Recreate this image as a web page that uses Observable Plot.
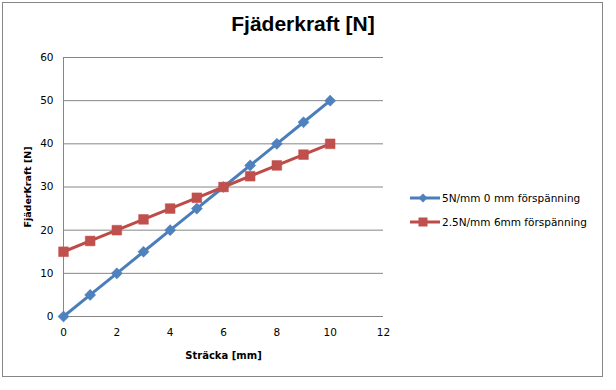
<!DOCTYPE html>
<html>
<head>
<meta charset="utf-8">
<script src="https://cdn.jsdelivr.net/npm/d3@7"></script>
<script src="https://cdn.jsdelivr.net/npm/@observablehq/plot@0.6"></script>
<style>
  html, body { margin: 0; padding: 0; background: #fff; }
  #wrap { position: relative; width: 616px; height: 390px; overflow: hidden; }
  #frame { position: absolute; left: 2px; top: 2px; width: 601px; height: 375px; border: 1px solid #868686; box-sizing: border-box; pointer-events: none; }
  #title { position: absolute; left: 0; width: 606px; top: 12px; text-align: center; font-family: "Liberation Sans", Arial, sans-serif; font-weight: bold; font-size: 21px; color: #000; }
  #legend { position: absolute; left: 410px; top: 189px; font-family: "DejaVu Sans", Verdana, sans-serif; font-size: 10.5px; color: #000; }
  #legend .row { display: flex; align-items: center; height: 18px; margin-bottom: 6px; }
  #legend svg { margin-right: 2px; }
  #chart { position: absolute; left: 0; top: 0; }
</style>
</head>
<body>
<div id="wrap">
  <div id="chart"></div>
  <div id="title">Fjäderkraft [N]</div>
  <div id="legend"></div>
  <div id="frame"></div>
</div>
<script>
const stracka = [0, 1, 2, 3, 4, 5, 6, 7, 8, 9, 10];
const series1Name = "5N/mm 0 mm förspänning";
const series2Name = "2.5N/mm 6mm förspänning";
const series1 = [0, 5, 10, 15, 20, 25, 30, 35, 40, 45, 50];
const series2 = [15, 17.5, 20, 22.5, 25, 27.5, 30, 32.5, 35, 37.5, 40];
const xTicks = [0, 2, 4, 6, 8, 10, 12];
const yTicks = [0, 10, 20, 30, 40, 50, 60];

const blue = "#4A7EBB", blueM = "#4F81BD";
const red = "#BE4B48", redM = "#C0504D";

const d1 = stracka.map((x, i) => ({x, y: series1[i]}));
const d2 = stracka.map((x, i) => ({x, y: series2[i]}));

const font = '"DejaVu Sans", Verdana, sans-serif';

const chart = Plot.plot({
  width: 616,
  height: 390,
  marginLeft: 63,
  marginRight: 233,
  marginTop: 57,
  marginBottom: 74,
  style: {fontFamily: font, fontSize: "10.5px", color: "#000", background: "transparent", overflow: "visible"},
  x: {domain: [0, 12], ticks: xTicks, tickSize: 0, tickPadding: 12, label: null},
  y: {domain: [0, 60], ticks: yTicks, tickSize: 0, tickPadding: 10, label: null},
  marks: [
    Plot.ruleY(yTicks, {stroke: "#868686", strokeWidth: 1}),
    Plot.ruleX([0], {stroke: "#868686", strokeWidth: 1}),
    Plot.axisX({ticks: xTicks, tickSize: 0, tickPadding: 12, label: null, fontSize: 10.5}),
    Plot.axisY({ticks: yTicks, tickSize: 0, tickPadding: 10, label: null, fontSize: 10.5}),
    Plot.text(["Sträcka [mm]"], {frameAnchor: "bottom", dy: 42, fontWeight: "bold", fontSize: 10}),
    Plot.text(["FjäderKraft [N]"], {frameAnchor: "left", dx: -36, rotate: -90, textAnchor: "middle", fontWeight: "bold", fontSize: 9.5}),
    Plot.line(d1, {x: "x", y: "y", stroke: blue, strokeWidth: 3}),
    Plot.dot(d1, {x: "x", y: "y", symbol: "diamond2", r: 5, fill: blueM, stroke: blueM, strokeWidth: 0.5}),
    Plot.line(d2, {x: "x", y: "y", stroke: red, strokeWidth: 3}),
    Plot.dot(d2, {x: "x", y: "y", symbol: "square", r: 5.5, fill: redM, stroke: redM, strokeWidth: 0.5})
  ]
});
document.getElementById("chart").appendChild(chart);

// Legend
const legend = document.getElementById("legend");
function addRow(name, lineColor, markColor, symbol) {
  const row = document.createElement("div");
  row.className = "row";
  const svg = d3.create("svg").attr("width", 30).attr("height", 14);
  svg.append("line").attr("x1", 0).attr("x2", 30).attr("y1", 7).attr("y2", 7)
    .attr("stroke", lineColor).attr("stroke-width", 3);
  if (symbol === "diamond") {
    svg.append("path").attr("d", "M13,2.5 L17.5,7 L13,11.5 L8.5,7 Z").attr("fill", markColor);
  } else {
    svg.append("rect").attr("x", 8.5).attr("y", 2.5).attr("width", 9).attr("height", 9).attr("fill", markColor);
  }
  row.appendChild(svg.node());
  const span = document.createElement("span");
  span.textContent = name;
  row.appendChild(span);
  legend.appendChild(row);
}
addRow(series1Name, blue, blueM, "diamond");
addRow(series2Name, red, redM, "square");
</script>
</body>
</html>
